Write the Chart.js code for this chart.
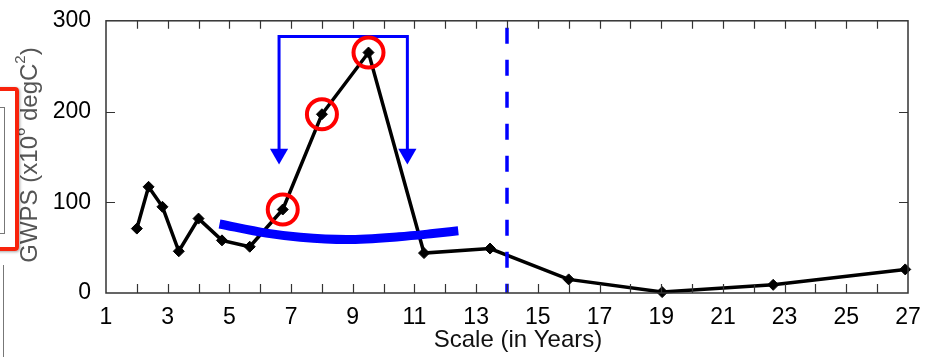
<!DOCTYPE html>
<html>
<head>
<meta charset="utf-8">
<script src="https://cdn.jsdelivr.net/npm/chart.js@4.4.1/dist/chart.umd.min.js"></script>
<style>
  html, body { margin: 0; padding: 0; background: #fff; }
  #wrap { position: relative; width: 927px; height: 357px; overflow: hidden; }
  #chart { position: absolute; left: 0; top: 0; }
  .red-box { position: absolute; left: -12px; top: 87px; width: 23px; height: 156px;
             border: 4px solid #f8230c; border-radius: 4px; box-shadow: 1px 1px 3px rgba(0,0,0,0.35); }
  .gray-box { position: absolute; left: -10px; top: 107px; width: 13px; height: 125px; border: 1px solid #777; }
  .gray-line { position: absolute; left: 3px; top: 265px; width: 1px; height: 100px; background: #777; }
</style>
</head>
<body>
<div id="wrap">
  <canvas id="chart" width="927" height="357"></canvas>
  <div class="gray-box"></div>
  <div class="red-box"></div>
  <div class="gray-line"></div>
</div>
<script>
// ---------------- data ----------------
const SCALES = [2, 2.38, 2.83, 3.36, 4, 4.76, 5.66, 6.73, 8, 9.51, 11.31, 13.45, 16, 19.03, 22.63, 26.91];
const GWPS   = [71, 117, 95, 46, 82, 58, 51, 92, 197, 265, 44, 49, 15, 1, 9, 26];

// highlighted points (red circles)
const PEAK_X = [6.73, 8, 9.51];
const PEAK_Y = [92, 197, 265];

// blue curve (significance line)
const CURVE_X = [4.68, 6.2, 7.3, 8.8, 10.5, 11.6, 12.42];
const CURVE_Y = [76, 66, 61.5, 59, 62, 65.5, 68.5];

// blue bracket with arrows
const BRACKET_X = [6.61, 6.61, 10.77, 10.77];
const BRACKET_Y = [153, 282.7, 282.7, 153];
const ARROW_X = [6.61, 10.77];
const ARROW_Y = [153.3, 153.3];

// dashed vertical line
const CUTOFF_X = 14;
const Y_RANGE = [0, 300];

const X_MIN = 1, X_MAX = 27;
const Y_TICKS = [0, 100, 200, 300];

const pts = (xs, ys) => xs.map((x, i) => ({ x, y: ys[i] }));

// ---------------- frame + inward ticks + axis titles ----------------
const framePlugin = {
  id: "framePlugin",
  afterDraw(chart) {
    const { ctx, chartArea: a, scales: { x, y } } = chart;
    ctx.save();
    ctx.strokeStyle = "#333";
    ctx.lineWidth = 1.5;
    ctx.strokeRect(a.left, a.top, a.right - a.left, a.bottom - a.top);
    ctx.lineWidth = 1.2;
    ctx.beginPath();
    for (let v = X_MIN + 1; v < X_MAX; v++) {
      const px = Math.round(x.getPixelForValue(v)) + 0.5;
      ctx.moveTo(px, a.bottom); ctx.lineTo(px, a.bottom - 9);
      ctx.moveTo(px, a.top); ctx.lineTo(px, a.top + 8);
    }
    Y_TICKS.slice(1, -1).forEach(v => {
      const py = Math.round(y.getPixelForValue(v)) + 0.5;
      ctx.moveTo(a.left, py); ctx.lineTo(a.left + 9, py);
      ctx.moveTo(a.right, py); ctx.lineTo(a.right - 9, py);
    });
    ctx.stroke();

    // x title
    ctx.fillStyle = "#111";
    ctx.font = "24px Arial";
    ctx.textAlign = "center";
    ctx.textBaseline = "middle";
    ctx.fillText("Scale (in Years)", 518, 340);

    // y title with superscripts
    ctx.translate(30, 155);
    ctx.rotate(-Math.PI / 2);
    ctx.fillStyle = "#555";
    ctx.textAlign = "left";
    ctx.textBaseline = "middle";
    const parts = [["GWPS (x10", 24, 0], ["6", 15, -9], [" degC", 24, 0], ["2", 15, -9], [")", 24, 0]];
    let total = 0;
    parts.forEach(p => { ctx.font = p[1] + "px Arial"; total += ctx.measureText(p[0]).width; });
    let cx = -total / 2;
    parts.forEach(p => {
      ctx.font = p[1] + "px Arial";
      ctx.fillText(p[0], cx, p[2]);
      cx += ctx.measureText(p[0]).width;
    });
    ctx.restore();
  }
};

new Chart(document.getElementById("chart"), {
  type: "line",
  data: {
    datasets: [
      {
        label: "peaks",
        data: pts(PEAK_X, PEAK_Y),
        showLine: false,
        pointStyle: "circle",
        pointRadius: 15,
        pointBorderWidth: 4,
        pointBorderColor: "#f00",
        pointBackgroundColor: "rgba(0,0,0,0)",
        clip: false
      },
      {
        label: "curve",
        data: pts(CURVE_X, CURVE_Y),
        borderColor: "#0000ff",
        borderWidth: 9,
        tension: 0.4,
        cubicInterpolationMode: "monotone",
        pointRadius: 0,
        borderCapStyle: "butt"
      },
      {
        label: "cutoff",
        data: pts([CUTOFF_X, CUTOFF_X], [Y_RANGE[1], Y_RANGE[0]]),
        borderColor: "#0000ff",
        borderWidth: 3.5,
        borderDash: [16, 16],
        borderDashOffset: 25,
        pointRadius: 0
      },
      {
        label: "arrows",
        data: pts(ARROW_X, ARROW_Y),
        showLine: false,
        pointStyle: "triangle",
        rotation: 180,
        pointRadius: 10.5,
        pointBorderWidth: 0,
        pointBackgroundColor: "#0000ff",
        pointBorderColor: "#0000ff"
      },
      {
        label: "bracket",
        data: pts(BRACKET_X, BRACKET_Y),
        borderColor: "#0000ff",
        borderWidth: 3,
        pointRadius: 0,
        borderJoinStyle: "miter"
      },
      {
        label: "GWPS",
        data: pts(SCALES, GWPS),
        borderColor: "#000",
        borderWidth: 3.5,
        pointStyle: "rectRot",
        pointRadius: 5.5,
        pointBackgroundColor: "#000",
        pointBorderColor: "#000",
        pointBorderWidth: 1,
        clip: false
      }
    ]
  },
  options: {
    responsive: false,
    animation: false,
    layout: { padding: { top: 20, right: 15, left: 0, bottom: 0 } },
    plugins: { legend: { display: false }, tooltip: { enabled: false } },
    scales: {
      x: {
        type: "linear",
        min: X_MIN,
        max: X_MAX,
        grid: { display: false },
        border: { display: false },
        afterFit: s => { s.height = 64; },
        ticks: {
          stepSize: 1,
          autoSkip: false,
          maxRotation: 0,
          padding: 3,
          color: "#000",
          font: { family: "Arial", size: 23 },
          callback: v => (v % 2 === 1 ? v : "")
        }
      },
      y: {
        min: Y_TICKS[0],
        max: Y_TICKS[Y_TICKS.length - 1],
        grid: { display: false },
        border: { display: false },
        afterFit: s => { s.width = 106; },
        ticks: {
          stepSize: 100,
          padding: 7,
          color: "#000",
          font: { family: "Arial", size: 23 }
        }
      }
    }
  },
  plugins: [framePlugin]
});
</script>
</body>
</html>
